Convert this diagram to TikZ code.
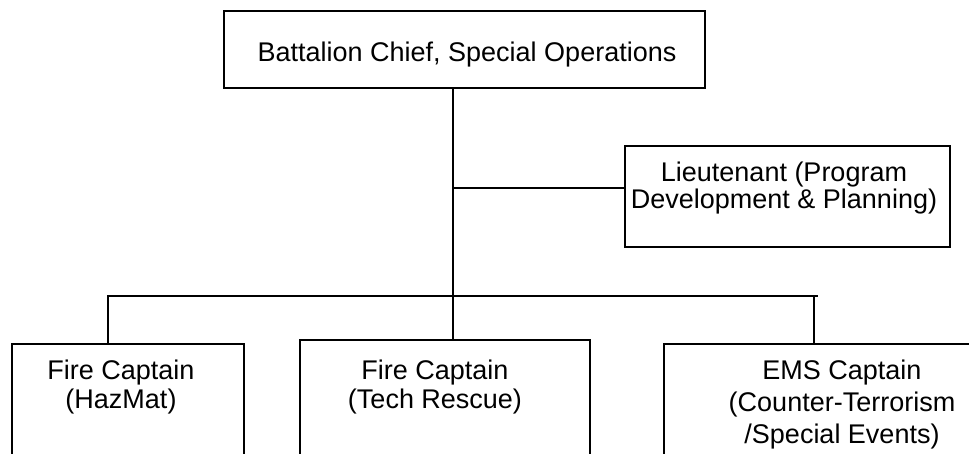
\documentclass[tikz,border=0pt]{standalone}
\usepackage{fontspec}
\setmainfont{Liberation Sans}
\begin{document}
\begin{tikzpicture}[x=1pt,y=-1pt,
  box/.style={draw,line width=2.6pt,rectangle,inner sep=0pt},
  lbl/.style={align=center,inner sep=0pt,font=\fontsize{27}{29}\selectfont},
  lbltight/.style={align=center,inner sep=0pt,font=\fontsize{27}{27}\selectfont},
  lblwide/.style={align=center,inner sep=0pt,font=\fontsize{27}{32}\selectfont},
  conn/.style={line width=2.5pt}]
\useasboundingbox (0,0) rectangle (969,454);
\clip (0,0) rectangle (969,454);
% boxes
\node[box,minimum width=481pt,minimum height=77pt] (chief) at (464.5,49.5) {};
\node[lbl] (chiefT) at (467,55) {Battalion Chief, Special Operations};
\node[box,minimum width=325pt,minimum height=101pt] (lieut) at (787.5,196.5) {};
\node[lbltight] (lieutT) at (784,188.3) {Lieutenant (Program\\Development \& Planning)};
\node[box,minimum width=232pt,minimum height=160pt] (hazmat) at (128,424) {};
\node[lbl] (hazmatT) at (121,387.3) {Fire Captain\\(HazMat)};
\node[box,minimum width=290pt,minimum height=160pt] (tech) at (445,420) {};
\node[lbl] (techT) at (435,387) {Fire Captain\\(Tech Rescue)};
\node[box,minimum width=346pt,minimum height=160pt] (ems) at (837,424) {};
\node[lblwide] (emsT) at (842,404.8) {EMS Captain\\(Counter-Terrorism\\/Special Events)};
% connector points
\coordinate (trunk) at (453,296);
\coordinate (busL) at (108,296);
\coordinate (busR) at (818,296);
\coordinate (dropR) at (814,296);
\coordinate (lconn) at ([yshift=8.5pt]lieut.west);
% connectors
\draw[conn] (chief.south -| trunk) -- (tech.north -| trunk);
\draw[conn] (trunk |- lconn) -- (lconn);
\draw[conn] (hazmat.north -| busL) -- (busL) -- (busR);
\draw[conn] (dropR) -- (ems.north -| dropR);
\end{tikzpicture}
\end{document}
